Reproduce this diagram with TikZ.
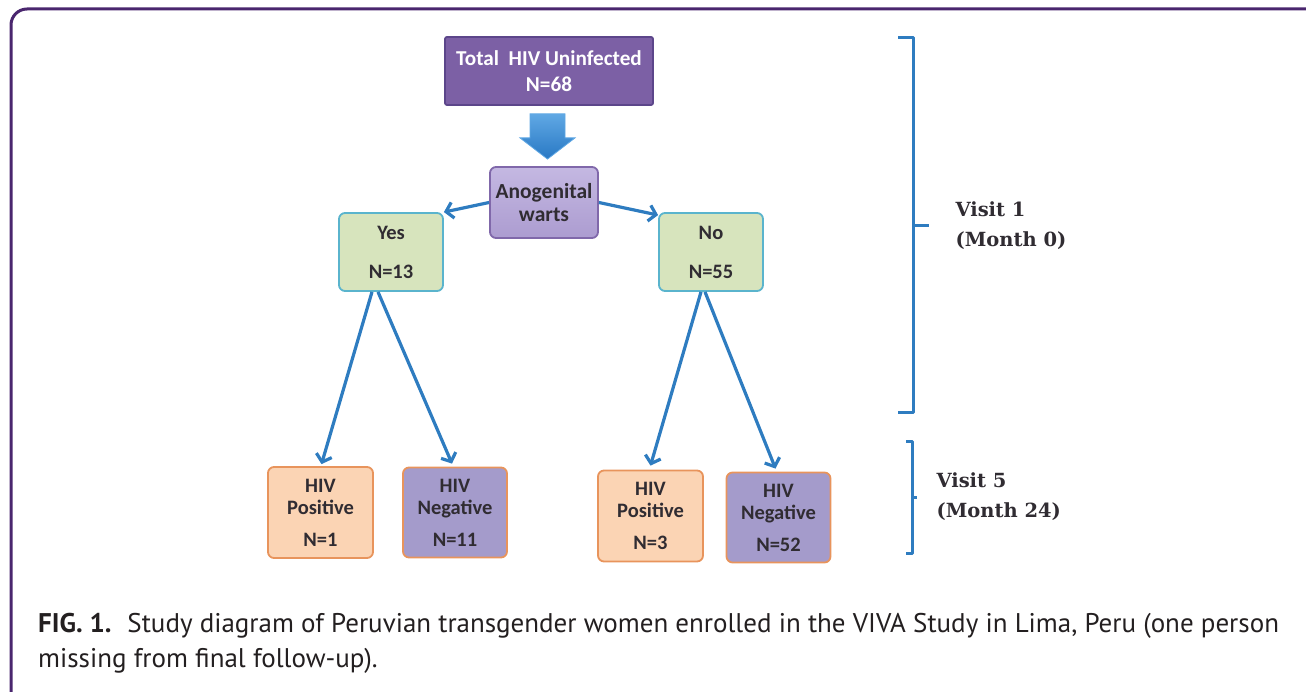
\documentclass[tikz,border=0pt]{standalone}
\usepackage{fontspec}
\setmainfont{Carlito}
\newfontfamily\capfont{PT Sans}
\newfontfamily\visitfont{DejaVu Serif}
\usetikzlibrary{arrows.meta,calc}
\definecolor{framec}{RGB}{74,38,110}
\definecolor{topfill}{RGB}{124,96,165}
\definecolor{topedge}{RGB}{92,70,138}
\definecolor{wartfillA}{RGB}{196,184,226}
\definecolor{wartfillB}{RGB}{172,156,208}
\definecolor{wartedge}{RGB}{128,104,170}
\definecolor{greenfill}{RGB}{215,228,189}
\definecolor{greenedge}{RGB}{90,180,205}
\definecolor{posfill}{RGB}{251,212,180}
\definecolor{negfill}{RGB}{164,155,203}
\definecolor{orangeedge}{RGB}{232,148,92}
\definecolor{conn}{RGB}{46,124,192}
\definecolor{arrA}{RGB}{96,168,228}
\definecolor{arrB}{RGB}{40,120,196}
\definecolor{txt}{RGB}{48,44,50}
\definecolor{captxt}{RGB}{35,31,32}
\begin{document}
\begin{tikzpicture}[x=1pt,y=-1pt,
  box/.style={rounded corners=6pt, line width=1.8pt, inner sep=0pt, align=center,
    font=\bfseries\fontsize{20.5}{22}\selectfont, text=txt},
  topbox/.style={box, rounded corners=2pt, fill=topfill, draw=topedge, text=white,
    minimum width=208pt, minimum height=68pt, font=\bfseries\fontsize{21.2}{26}\selectfont},
  wartbox/.style={box, top color=wartfillA, bottom color=wartfillB, draw=wartedge,
    minimum width=108pt, minimum height=71pt, font=\bfseries\fontsize{21.5}{23}\selectfont},
  greenbox/.style={box, fill=greenfill, draw=greenedge, minimum width=104pt, minimum height=78pt},
  posbox/.style={box, fill=posfill, draw=orangeedge, minimum width=105pt, minimum height=91pt},
  negbox/.style={box, fill=negfill, draw=orangeedge, minimum width=104pt, minimum height=90pt},
  conn/.style={draw=conn, line width=3.2pt, -{Straight Barb[length=7pt,width=16pt]}},
  brace/.style={draw=conn, line width=3pt, line join=round},
  visit/.style={anchor=west, align=left, text=txt, font=\visitfont\bfseries\fontsize{19.5}{30}\selectfont},
  captext/.style={anchor=west, text=captxt, font=\capfont\fontsize{27}{35}\selectfont, inner sep=0pt},
]
\useasboundingbox (0,0) rectangle (1306,692);
% frame
\draw[framec, line width=3pt, rounded corners=16pt] (11,9) rectangle (1360,706);

% nodes
\node[topbox] (top) at (549,71) {Total\ \ HIV Uninfected\\N=68};
\node[wartbox] (wart) at (544,202.5) {Anogenital\\warts};
\node[greenbox] (yes) at (391,252) {Yes\\[17pt]N=13};
\node[greenbox] (no) at (711,252) {No\\[17pt]N=55};
\node[posbox] (pos1) at (320.5,512.5) {HIV\\Positive\\[10pt]N=1};
\node[negbox] (neg1) at (455,512.5) {HIV\\Negative\\[10pt]N=11};
\node[posbox] (pos2) at (650.5,516) {HIV\\Positive\\[10pt]N=3};
\node[negbox] (neg2) at (778.5,517.5) {HIV\\Negative\\[10pt]N=52};

% block arrow from top box to warts box
\path[top color=arrA, bottom color=arrB, draw=arrA, line width=0.8pt]
  ($(top.south)+(-19,8)$) -- ++(35,0) -- ++(0,24) -- ++(10,0)
  -- ($(wart.north)+(3.5,-7)$) -- ($(top.south)+(-29,32)$) -- ++(10,0) -- cycle;

% connectors
\draw[conn] (wart.west) -- (yes.north east);
\draw[conn] (wart.east) -- ($(no.north west)+(0,3)$);
\draw[conn] ($(yes.south)+(-19,0)$) -- ($(pos1.north)+(1,-2)$);
\draw[conn] ($(yes.south)+(-13,0)$) -- ($(neg1.north)+(-3,-3)$);
\draw[conn] ($(no.south)+(-10,0)$) -- ($(pos2.north)+(0,-4)$);
\draw[conn] ($(no.south)+(-6,0)$) -- ($(neg2.north)+(-3,-3)$);

% braces
\coordinate (b1t) at (913,38);
\coordinate (b1b) at (913,412);
\coordinate (b1m) at (913,226);
\draw[brace] ($(b1t)+(-15,0)$) -- (b1t) -- (b1b) -- ++(-15,0);
\draw[brace] (b1m) -- ++(16,0);
\node[visit] (v1) at (952,226) {Visit 1\\(Month 0)};

\coordinate (b5t) at (912,441);
\coordinate (b5b) at (912,553);
\coordinate (b5m) at (912,497);
\draw[brace] ($(b5t)+(-6,0)$) -- (b5t) -- (b5b) -- ++(-6,0);
\draw[brace] (b5m) -- ++(5,0);
\node[visit] (v5) at (933,497) {Visit 5\\(Month 24)};

% caption
\node[captext] (cap1) at (38,626)
  {\textbf{FIG. 1.}\hspace{16pt}Study diagram of Peruvian transgender women enrolled in the VIVA Study in Lima, Peru (one person};
\node[captext] (cap2) at (38,661) {missing from final follow-up).};
\end{tikzpicture}
\end{document}
